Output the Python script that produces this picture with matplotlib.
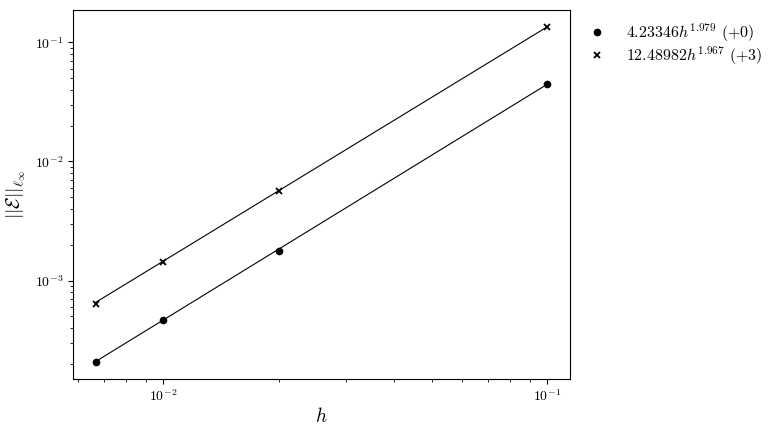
import numpy as np
import matplotlib
matplotlib.use("Agg")
import matplotlib.pyplot as plt

plt.rcParams['mathtext.fontset'] = 'cm'
plt.rcParams['font.family'] = 'serif'
plt.rcParams['font.serif'] = ['cmr10', 'DejaVu Serif']
plt.rcParams['axes.formatter.use_mathtext'] = True

# step sizes and measured max errors
h = np.array([0.1, 0.02, 0.01, 1 / 150])
err_p0 = np.array([0.0444, 0.00178, 0.000465, 0.000207])
err_p3 = np.array([0.1336, 0.00565, 0.00143, 0.000630])

# fitted power laws C*h^p
fit_p0 = (4.23346, 1.979)
fit_p3 = (12.48982, 1.967)

fig = plt.figure(figsize=(7.84, 4.34), dpi=100)
ax = fig.add_axes([0.093, 0.127, 0.634, 0.85])

ax.loglog(h, err_p0, 'o', color='black', markersize=4.5,
          label=r'$4.23346h^{1.979}$ $(+0)$')
ax.loglog(h, fit_p0[0] * h ** fit_p0[1], '-', color='black', linewidth=0.8)
ax.loglog(h, err_p3, 'x', color='black', markersize=5, markeredgewidth=1.3,
          label=r'$12.48982h^{1.967}$ $(+3)$')
ax.loglog(h, fit_p3[0] * h ** fit_p3[1], '-', color='black', linewidth=0.8)

ax.set_xlabel(r'$h$', fontsize=14, labelpad=2)
ax.set_ylabel(r'$||\mathcal{E}||_{\ell_\infty}$', fontsize=14, labelpad=5)

ax.legend(loc='upper left', bbox_to_anchor=(1.0, 1.0), frameon=False,
          fontsize=11.5, labelspacing=0.05, borderaxespad=0.3)

fig.savefig('out.png', dpi=100)
